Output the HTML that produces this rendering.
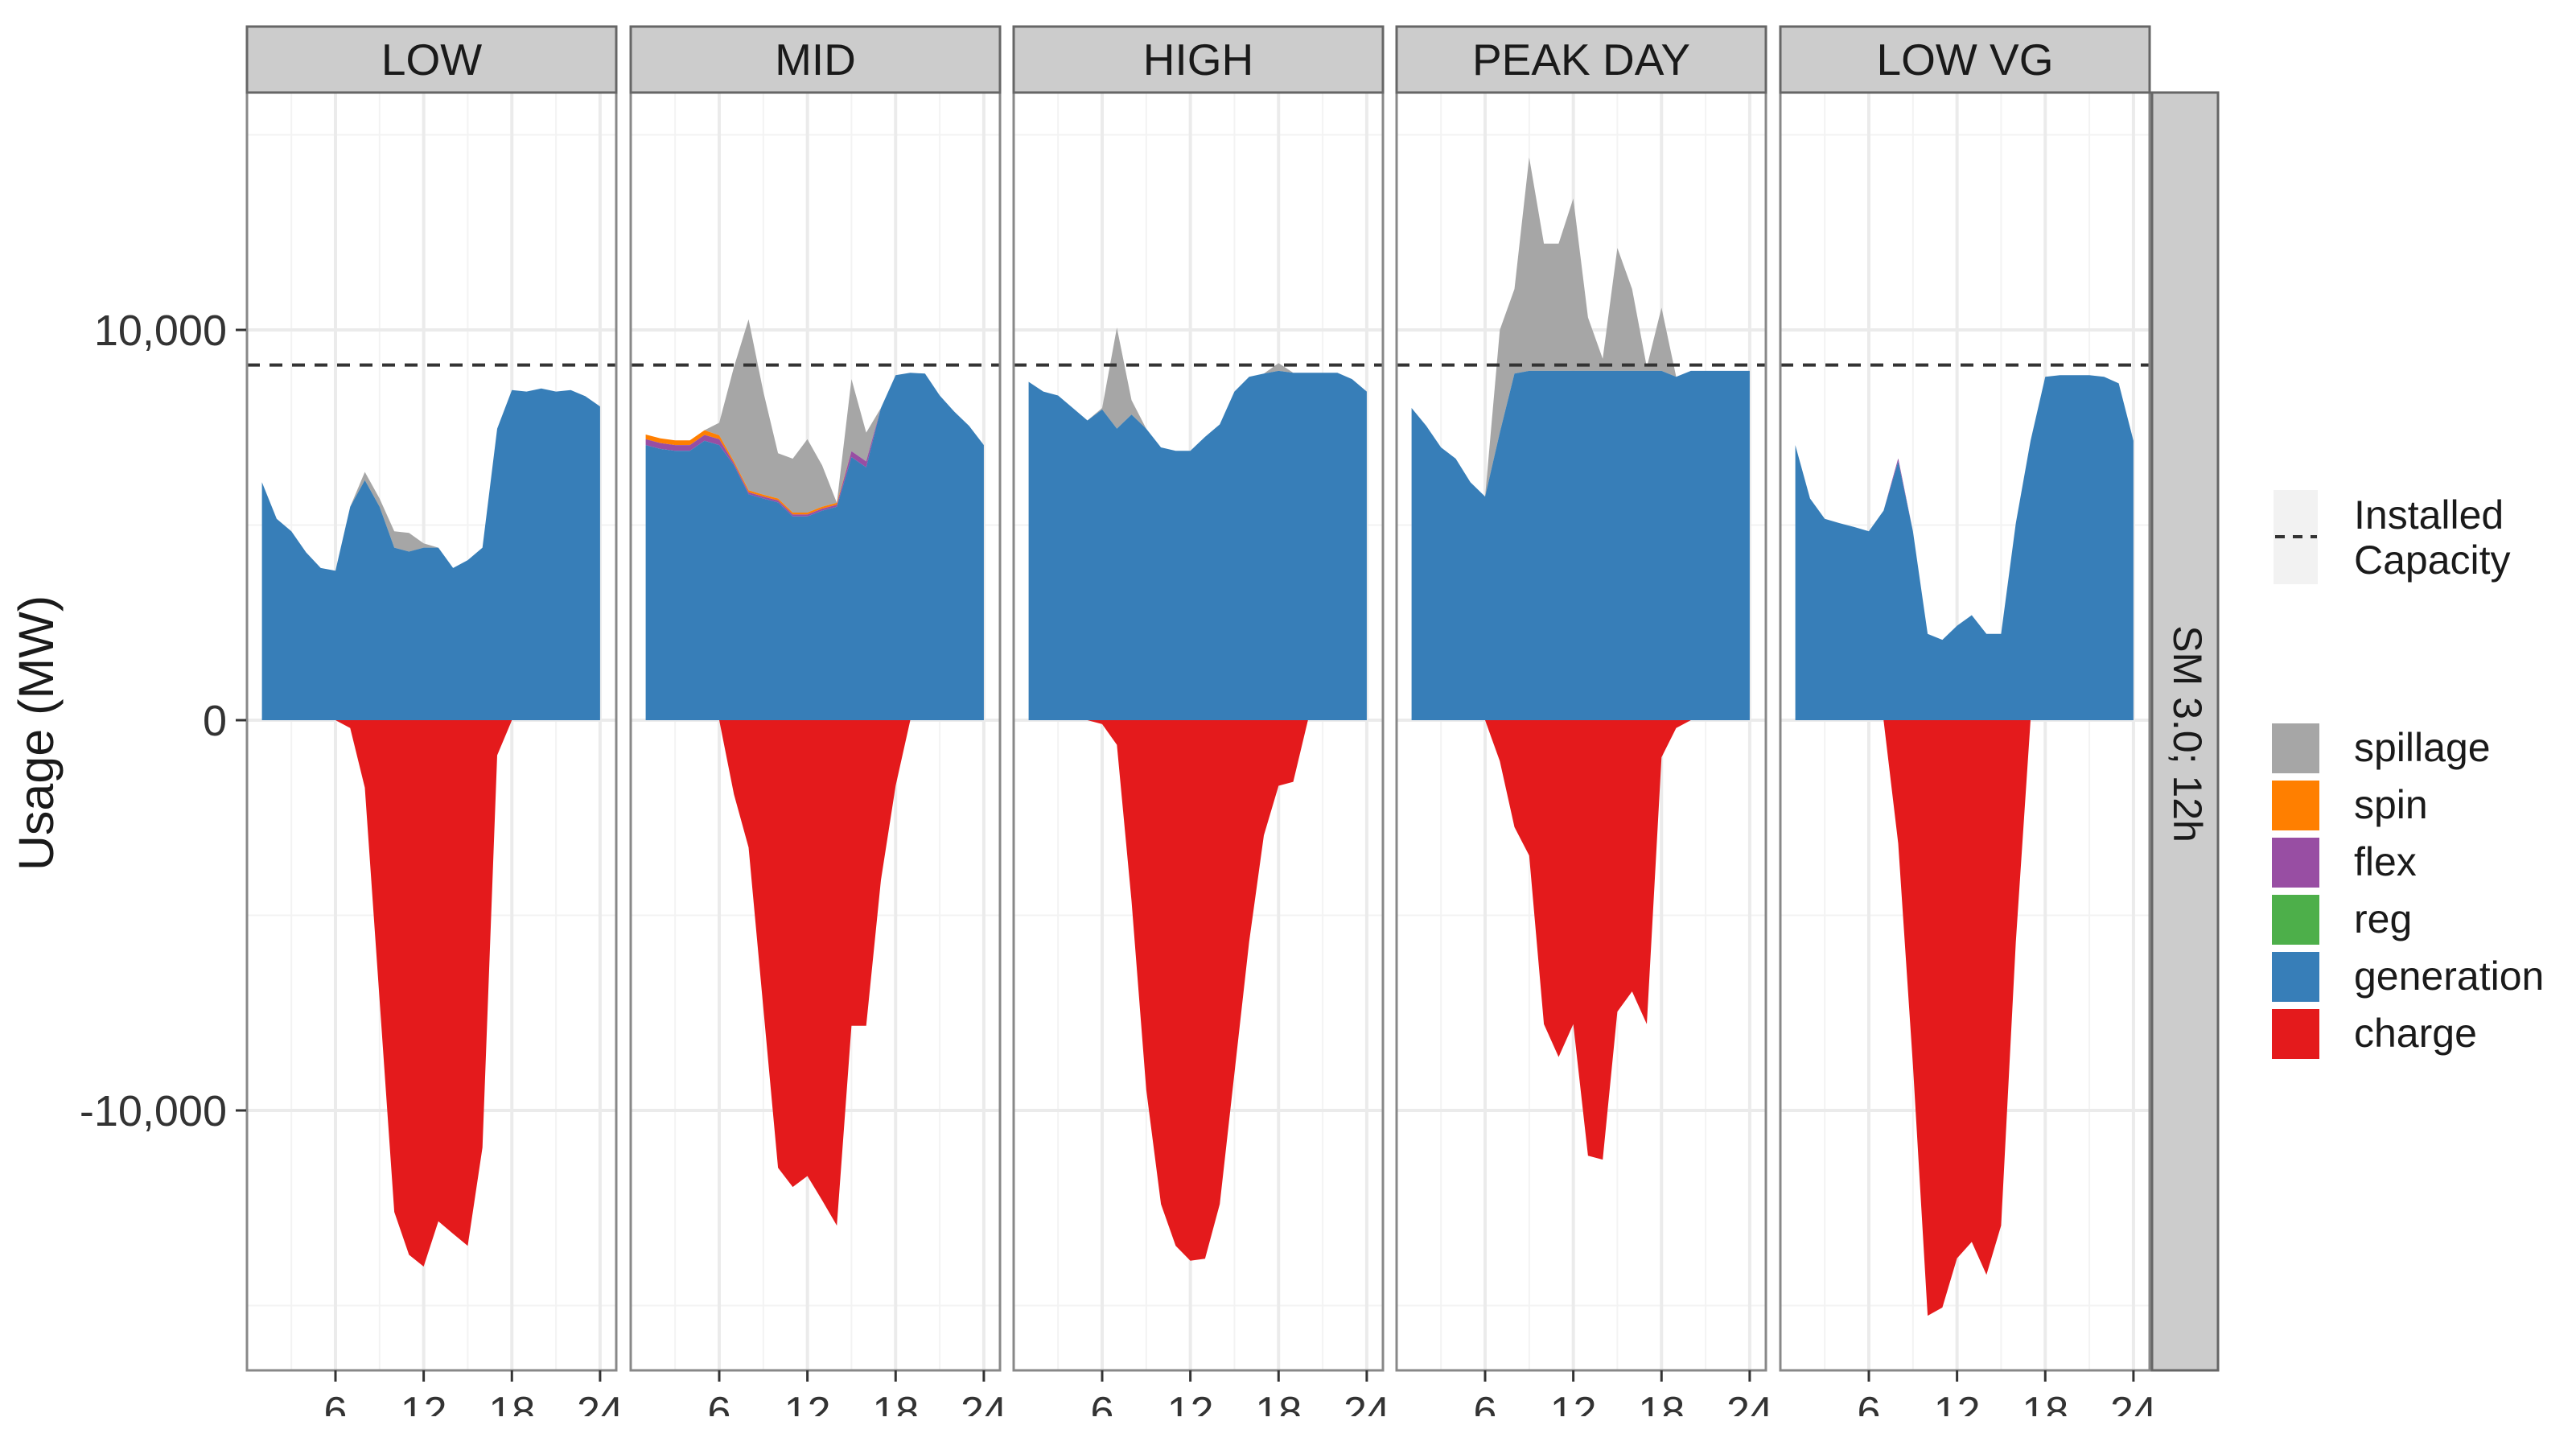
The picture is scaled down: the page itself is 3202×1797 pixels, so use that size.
<!DOCTYPE html>
<html><head><meta charset="utf-8"><style>
html,body{margin:0;padding:0;background:#fff;}
svg{display:block;}
text{font-family:"Liberation Sans",Arial,sans-serif;}
</style></head><body>
<svg id="chart" width="3202" height="1797" viewBox="0 0 3202 1797" xmlns="http://www.w3.org/2000/svg">
<g id="panels"></g>
<text x="0" y="0" transform="translate(66,911) rotate(-90)" text-anchor="middle" font-size="61" fill="#1a1a1a">Usage (MW)</text>
<g id="yaxis"></g>
<g>
<rect x="2675" y="115" width="82" height="1588" fill="#cccccc" stroke="#666" stroke-width="3"/>
<text transform="translate(2702,912) rotate(90)" text-anchor="middle" font-size="50" fill="#1a1a1a">SM 3.0; 12h</text>
</g>
<g>
<g>
<rect x="2826" y="609" width="55" height="117" fill="#f2f2f2"/>
<line x1="2828" y1="667" x2="2880" y2="667" stroke="#333" stroke-width="4" stroke-dasharray="12,10"/>
<text x="2926" y="657" font-size="50" fill="#1a1a1a">Installed</text>
<text x="2926" y="713" font-size="50" fill="#1a1a1a">Capacity</text>
</g>
<g id="legendItems"></g>
</g>
<rect x="0" y="1760" width="3202" height="37" fill="#fff"/>
</svg>
<script>
const panelNames = ["LOW","MID","HIGH","PEAK DAY","LOW VG"];
const hours = [1,2,3,4,5,6,7,8,9,10,11,12,13,14,15,16,17,18,19,20,21,22,23,24];
// values in thousands of MW
const genLow   = [6.1,5.16,4.84,4.3,3.9,3.83,5.47,6.15,5.47,4.42,4.32,4.42,4.42,3.9,4.1,4.42,7.47,8.46,8.42,8.5,8.42,8.46,8.3,8.04];
const spillLow = [0,0,0,0,0,0,0,0.21,0.21,0.42,0.48,0.11,0,0,0,0,0,0,0,0,0,0,0,0];
const chargeLow= [0,0,0,0,0,0,-0.2,-1.73,-7.16,-12.6,-13.7,-14.0,-12.84,-13.16,-13.47,-10.95,-0.9,0,0,0,0,0,0,0];

const genMid   = [7.05,6.95,6.9,6.9,7.16,7.05,6.53,5.79,5.68,5.58,5.22,5.22,5.37,5.47,6.74,6.48,8.0,8.84,8.9,8.88,8.32,7.9,7.54,7.05];
const flexMid  = [0.15,0.15,0.15,0.15,0.15,0.15,0.05,0.05,0.05,0.05,0.05,0.05,0.05,0.05,0.15,0.15,0,0,0,0,0,0,0,0];
const spinMid  = [0.12,0.12,0.12,0.12,0.12,0.1,0.05,0.05,0.05,0.05,0.05,0.05,0.05,0.05,0,0,0,0,0,0,0,0,0,0];
const spillMid = [0,0,0,0,0,0.32,2.42,4.38,2.64,1.16,1.38,1.88,1.06,0,1.85,0.74,0,0,0,0,0,0,0,0];
const chargeMid= [0,0,0,0,0,0,-1.9,-3.26,-7.37,-11.47,-11.96,-11.68,-12.3,-12.95,-7.83,-7.83,-4.1,-1.68,0,0,0,0,0,0];

const genHigh   = [8.67,8.42,8.32,8.0,7.68,7.96,7.47,7.83,7.47,6.99,6.9,6.9,7.26,7.58,8.42,8.8,8.88,8.95,8.9,8.9,8.9,8.9,8.74,8.42];
const spillHigh = [0,0,0,0,0,0.04,2.59,0.37,0,0,0,0,0,0,0,0,0,0.2,0,0,0,0,0,0];
const chargeHigh= [0,0,0,0,0,-0.1,-0.63,-4.63,-9.47,-12.4,-13.47,-13.85,-13.8,-12.4,-9.05,-5.68,-2.95,-1.68,-1.58,0,0,0,0,0];

const genPeak   = [8.0,7.54,6.99,6.7,6.1,5.73,7.37,8.88,8.95,8.95,8.95,8.95,8.95,8.95,8.95,8.95,8.95,8.95,8.8,8.95,8.95,8.95,8.95,8.95];
const spillPeak = [0,0,0,0,0,0,2.63,2.17,5.47,3.26,3.26,4.42,1.37,0.31,3.15,2.1,0.1,1.62,0,0,0,0,0,0];
const chargePeak= [0,0,0,0,0,0,-1.05,-2.74,-3.47,-7.79,-8.63,-7.79,-11.16,-11.26,-7.47,-6.95,-7.79,-0.95,-0.2,0,0,0,0,0];

const genVG   = [7.05,5.68,5.16,5.05,4.95,4.84,5.37,6.63,4.84,2.21,2.06,2.42,2.69,2.21,2.21,5.05,7.16,8.8,8.84,8.84,8.84,8.8,8.63,7.16];
const flexVG  = [0,0,0,0,0,0,0,0.08,0,0,0,0,0,0,0,0,0,0,0,0,0,0,0,0];
const chargeVG= [0,0,0,0,0,0,0,-3.16,-8.84,-15.26,-15.05,-13.79,-13.37,-14.21,-12.95,-5.68,0,0,0,0,0,0,0,0];

const zeros = hours.map(()=>0);
const panelGen = [genLow,genMid,genHigh,genPeak,genVG];
const panelFlex = [zeros,flexMid,zeros,zeros,flexVG];
const panelSpin = [zeros,spinMid,zeros,zeros,zeros];
const panelSpill = [spillLow,spillMid,spillHigh,spillPeak,zeros];
const panelCharge = [chargeLow,chargeMid,chargeHigh,chargePeak,chargeVG];

const installedCapacity = 9.1;
const xTicks = [6,12,18,24];
const xMinor = [3,9,15,21];
const yTicks = [-10,0,10];
const yTickLabels = ["-10,000","0","10,000"];
const yMinor = [-15,-5,5,15];
const legendLabels = ["spillage","spin","flex","reg","generation","charge"];
const legendColors = ["#a6a6a6","#ff7f00","#984ea3","#4daf4a","#377eb8","#e41a1c"];

const NS="http://www.w3.org/2000/svg";
const panelLefts=[307,784,1260,1736,2213];
const PW=459, PT=115, PB=1703;
const X0=-0.02, X1=25.1;
function xs(i,h){return panelLefts[i]+(h-X0)/(X1-X0)*PW;}
function ys(v){return 895-v*48.5;}
function mk(tag,attrs,parent){const e=document.createElementNS(NS,tag);for(const k in attrs)e.setAttribute(k,attrs[k]);parent.appendChild(e);return e;}

const panelsG=document.getElementById('panels');
function areaPath(i,lower,upper){
  let d="";
  hours.forEach((h,k)=>{d+=(k?"L":"M")+xs(i,h).toFixed(1)+","+ys(upper[k]).toFixed(1);});
  for(let k=hours.length-1;k>=0;k--){d+="L"+xs(i,hours[k]).toFixed(1)+","+ys(lower[k]).toFixed(1);}
  return d+"Z";
}
panelNames.forEach((name,i)=>{
  const g=mk('g',{},panelsG);
  
  
  const L=panelLefts[i];
  mk('rect',{x:L,y:PT,width:PW,height:PB-PT,fill:'#fff'},g);
  yMinor.forEach(v=>{const l=mk('line',{x1:L,x2:L+PW,y1:ys(v),y2:ys(v),stroke:'#f3f3f3','stroke-width':2},g);});
  xMinor.forEach(h=>{const l=mk('line',{x1:xs(i,h),x2:xs(i,h),y1:PT,y2:PB,stroke:'#f3f3f3','stroke-width':2},g);});
  yTicks.forEach(v=>{const l=mk('line',{x1:L,x2:L+PW,y1:ys(v),y2:ys(v),stroke:'#ebebeb','stroke-width':4},g);});
  xTicks.forEach(h=>{const l=mk('line',{x1:xs(i,h),x2:xs(i,h),y1:PT,y2:PB,stroke:'#ebebeb','stroke-width':4},g);});
  const gen=panelGen[i], fl=panelFlex[i], sp=panelSpin[i], spl=panelSpill[i], ch=panelCharge[i];
  const s1=gen.map((v,k)=>v+fl[k]);
  const s2=s1.map((v,k)=>v+sp[k]);
  const s3=s2.map((v,k)=>v+spl[k]);
  let p;
  p=mk('path',{d:areaPath(i,zeros,ch),fill:'#e41a1c'},g);
  p=mk('path',{d:areaPath(i,s2,s3),fill:'#a6a6a6'},g);
  p=mk('path',{d:areaPath(i,s1,s2),fill:'#ff7f00'},g);
  p=mk('path',{d:areaPath(i,gen,s1),fill:'#984ea3'},g);
  p=mk('path',{d:areaPath(i,zeros,gen),fill:'#377eb8'},g);
  const dl=mk('line',{x1:L,x2:L+PW,y1:ys(installedCapacity),y2:ys(installedCapacity),stroke:'#333','stroke-width':4,'stroke-dasharray':'16,12'},g);
  
  mk('rect',{x:L,y:PT,width:PW,height:PB-PT,fill:'none',stroke:'#888','stroke-width':3},g);
  const st=mk('rect',{x:L,y:33,width:PW,height:82,fill:'#cccccc',stroke:'#666','stroke-width':3},g);
  
  const t=mk('text',{x:L+PW/2,y:93,'text-anchor':'middle','font-size':55,fill:'#1a1a1a'},g);
  t.textContent=name;
  xTicks.forEach(h=>{
    mk('line',{x1:xs(i,h),x2:xs(i,h),y1:PB,y2:PB+14,stroke:'#333','stroke-width':3},g);
    const tl=mk('text',{x:xs(i,h),y:1772,'text-anchor':'middle','font-size':52,fill:'#333'},g);
    tl.textContent=h;
  });
});
const ya=document.getElementById('yaxis');
yTicks.forEach((v,k)=>{
  mk('line',{x1:293,x2:306,y1:ys(v),y2:ys(v),stroke:'#333','stroke-width':3},ya);
  const t=mk('text',{x:282,y:ys(v)+19,'text-anchor':'end','font-size':54,fill:'#333'},ya);
  t.textContent=yTickLabels[k];
});
const li=document.getElementById('legendItems');
legendLabels.forEach((lab,k)=>{
  const g=mk('g',{},li);
  
  
  mk('rect',{x:2824,y:899+k*71,width:59,height:62,fill:legendColors[k]},g);
  const t=mk('text',{x:2926,y:946+k*71,'font-size':50,fill:'#1a1a1a'},g);
  t.textContent=lab;
});
</script>
</body></html>
